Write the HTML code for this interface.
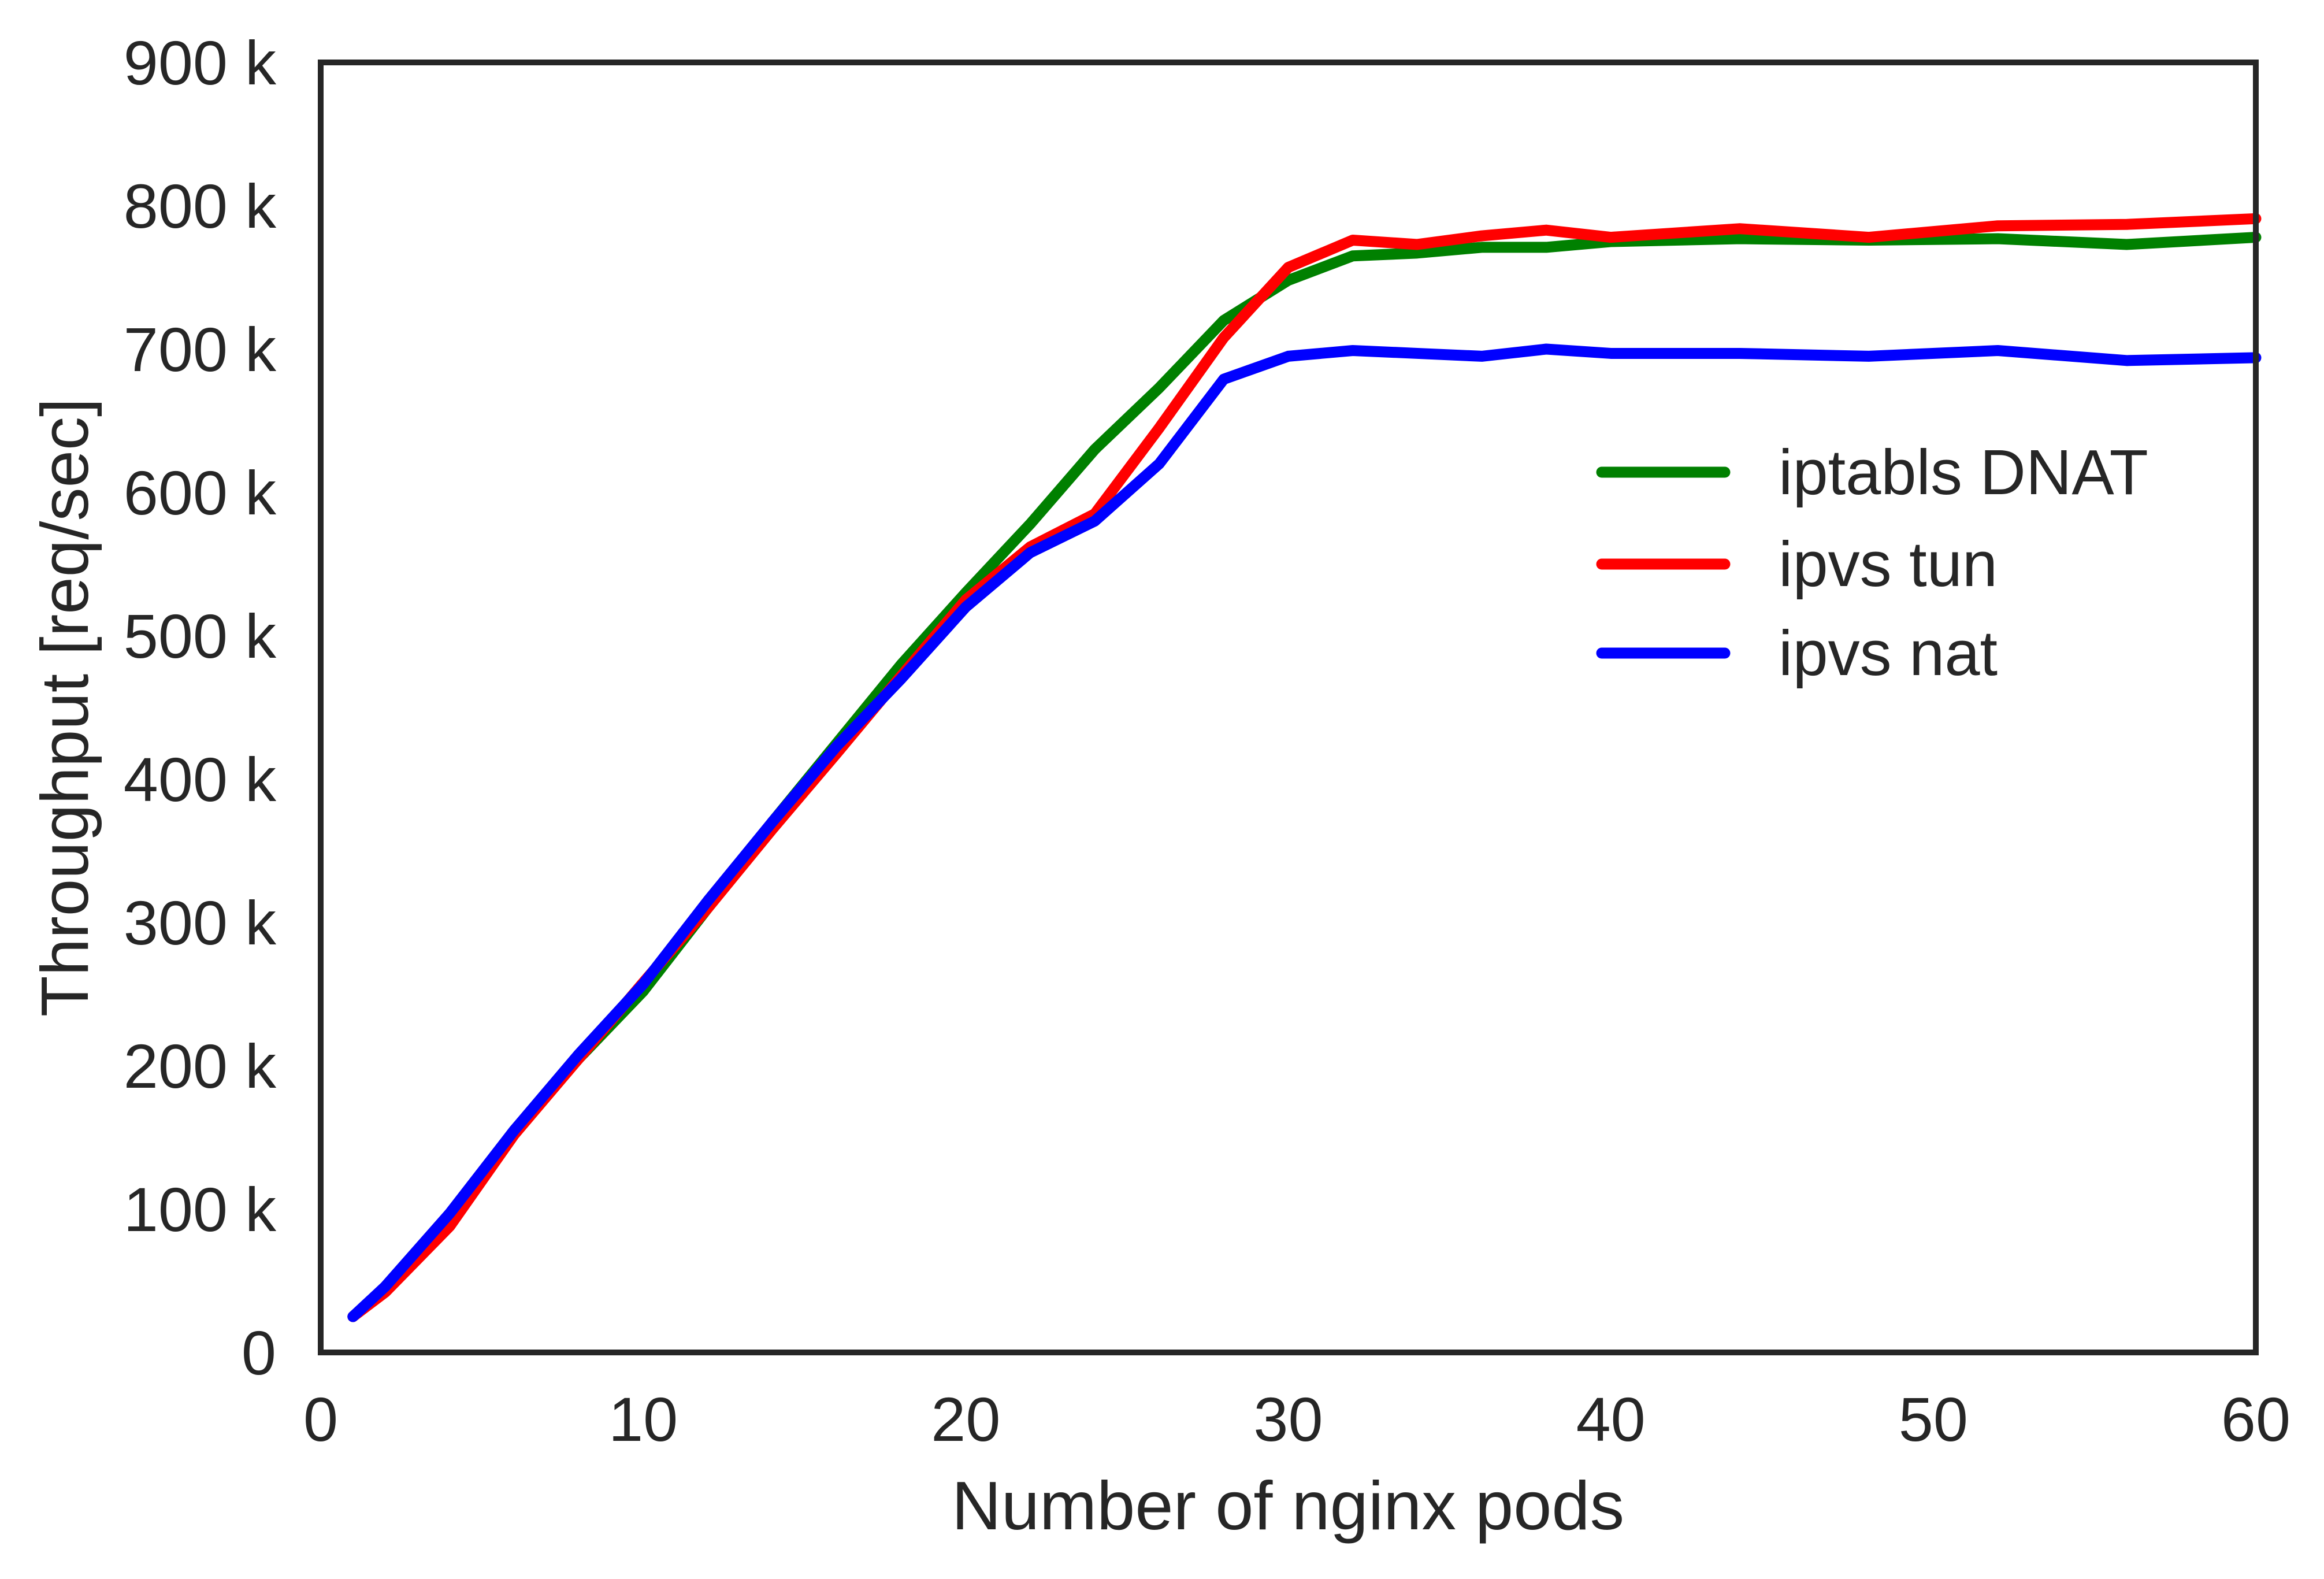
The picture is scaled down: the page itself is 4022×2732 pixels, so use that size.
<!DOCTYPE html>
<html><head><meta charset="utf-8"><style>
html,body{margin:0;padding:0;background:#fff;}
svg text{font-family:"Liberation Sans",Arial,sans-serif;fill:#262626;}
</style></head><body>
<svg id="chart" width="4022" height="2727" viewBox="0 0 4022 2727" xmlns="http://www.w3.org/2000/svg">
<rect width="4022" height="2727" fill="#fff"/>
<g id="ticks"></g>
<g id="series"></g>
<rect x="555" y="108" width="3349" height="2232" fill="none" stroke="#262626" stroke-width="10"/>
<text x="2229" y="2646" font-size="119" text-anchor="middle">Number of nginx pods</text>
<text x="0" y="0" font-size="116" text-anchor="middle" transform="translate(152,1224) rotate(-90)">Throughput [req/sec]</text>
<g id="legend"></g>
</svg>
<script>
const xs = [1,2,4,6,8,10,12,14,16,18,20,22,24,26,28,30,32,34,36,38,40,44,48,52,56,60];
const greenVals = [25,45,95,155,205,252,310,370,425,480,530,578,630,673,720,748,765,767,771,771,775,777,776,777,773,778];
const redVals = [25,42,88,152,205,258,310,365,418,472,525,562,585,645,708,757,776,773,779,783,778,784,778,786,787,791];
const blueVals = [25,46,97,155,208,257,315,370,423,470,520,558,580,620,679,695,699,697,695,700,697,697,695,699,692,694];
const seriesNames = ["iptabls DNAT","ipvs tun","ipvs nat"];
const xTicks = [0,10,20,30,40,50,60];
const yTicks = [0,100,200,300,400,500,600,700,800,900];
const yTickLabels = ["0","100 k","200 k","300 k","400 k","500 k","600 k","700 k","800 k","900 k"];

const L=555,R=3904,T=108,B=2340;
const xS=v=>L+(v-0)/(60-0)*(R-L);
const yS=v=>B-(v-0)/(900-0)*(B-T);
const NS="http://www.w3.org/2000/svg";
const ticks=document.getElementById('ticks');
xTicks.forEach(t=>{
  const e=document.createElementNS(NS,'text');
  e.setAttribute('x',xS(t));e.setAttribute('y',2493);
  e.setAttribute('font-size','108');e.setAttribute('text-anchor','middle');
  e.textContent=t;
  
  
  ticks.appendChild(e);
});
yTicks.forEach((t,i)=>{
  const e=document.createElementNS(NS,'text');
  e.setAttribute('x',478);e.setAttribute('y',yS(t)+38);
  e.setAttribute('font-size','108');e.setAttribute('text-anchor','end');
  e.textContent=yTickLabels[i];
  
  
  ticks.appendChild(e);
});
const sg=document.getElementById('series');
const colors=["#008000","#ff0000","#0000ff"];
const keys=["series-iptables-dnat","series-ipvs-tun","series-ipvs-nat"];
[greenVals,redVals,blueVals].forEach((vals,k)=>{
  const p=document.createElementNS(NS,'polyline');
  p.setAttribute('points',xs.map((x,i)=>xS(x)+','+yS(vals[i])).join(' '));
  p.setAttribute('fill','none');p.setAttribute('stroke',colors[k]);
  p.setAttribute('stroke-width','19');p.setAttribute('stroke-linejoin','round');p.setAttribute('stroke-linecap','round');
  
  
  sg.appendChild(p);
});
const lg=document.getElementById('legend');
const ly=[817,976,1130];
seriesNames.forEach((n,k)=>{
  const l=document.createElementNS(NS,'line');
  l.setAttribute('x1',2772);l.setAttribute('x2',2985);l.setAttribute('y1',ly[k]);l.setAttribute('y2',ly[k]);
  l.setAttribute('stroke',colors[k]);l.setAttribute('stroke-width','19');l.setAttribute('stroke-linecap','round');
  
  
  lg.appendChild(l);
  const t=document.createElementNS(NS,'text');
  t.setAttribute('x',3078);t.setAttribute('y',ly[k]+38);t.setAttribute('font-size','110');
  t.textContent=n;
  
  
  lg.appendChild(t);
});
</script>
</body></html>
